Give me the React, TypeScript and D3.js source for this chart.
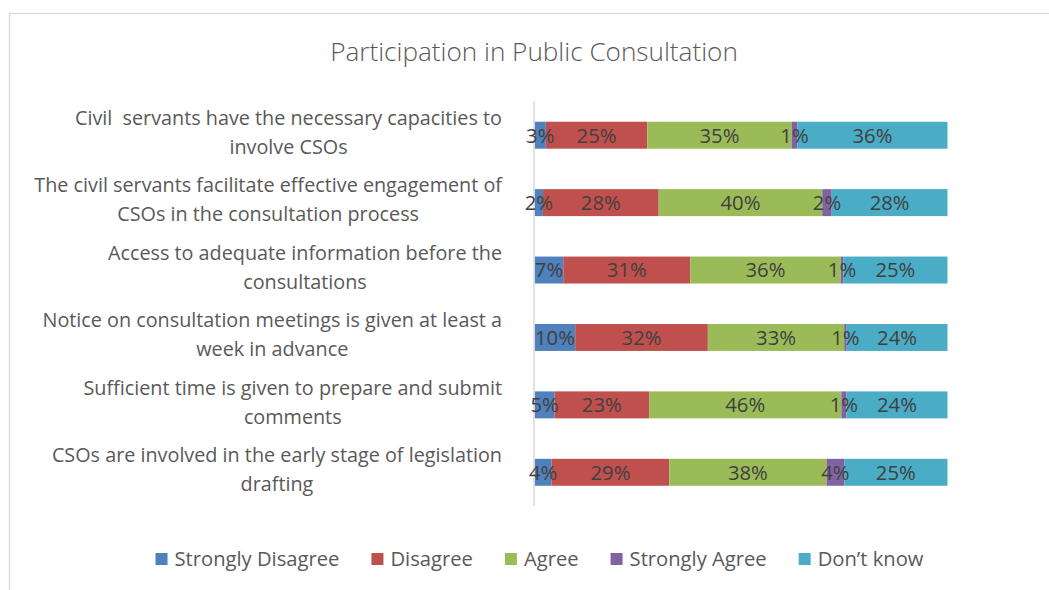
import React, { useEffect, useRef } from 'react';
import * as d3 from 'd3';

const categories = [
  'Civil  servants have the necessary capacities to\ninvolve CSOs',
  'The civil servants facilitate effective engagement of\nCSOs in the consultation process',
  'Access to adequate information before the\nconsultations',
  'Notice on consultation meetings is given at least a\nweek in advance',
  'Sufficient time is given to prepare and submit\ncomments',
  'CSOs are involved in the early stage of legislation\ndrafting',
];
const seriesNames = ['Strongly Disagree', 'Disagree', 'Agree', 'Strongly Agree', 'Don’t know'];
const stronglyDisagree = [2.7, 2.0, 6.9, 9.8, 4.8, 4.1];
const disagree = [24.6, 28.1, 30.7, 32.1, 22.8, 28.6];
const agree = [35.0, 39.7, 36.4, 33.0, 46.4, 38.2];
const stronglyAgree = [1.4, 2.3, 0.6, 0.6, 1.2, 4.3];
const dontKnow = [36.4, 28.1, 25.2, 24.4, 24.4, 25.1];
const colors = ['#4F81BD', '#C0504D', '#9BBB59', '#8064A2', '#4BACC6'];
const title = 'Participation in Public Consultation';

const W = 1049;
const H = 590;
const FONT = "'Open Sans', 'Noto Sans', sans-serif";

export default function App() {
  const ref = useRef<SVGSVGElement | null>(null);

  useEffect(() => {
    const svg = d3.select(ref.current);
    svg.selectAll('*').remove();

    const seriesValues = [stronglyDisagree, disagree, agree, stronglyAgree, dontKnow];
    const rows = categories.map((c, i) => {
      const r: any = { cat: c };
      seriesNames.forEach((s, j) => (r[s] = seriesValues[j][i]));
      return r;
    });
    const stacked = d3.stack<any>().keys(seriesNames).offset(d3.stackOffsetExpand)(rows);

    const x = d3.scaleLinear().domain([0, 1]).range([534.7, 947.5]);
    const y = d3.scaleBand<string>().domain(categories).range([101.5, 506]).paddingInner(0.6).paddingOuter(0.3);

    // frame
    svg.append('rect')
      .attr('x', 9.5).attr('y', 13.5).attr('width', 1100).attr('height', 700)
      .attr('fill', '#fff').attr('stroke', '#d9d9d9').attr('stroke-width', 1.3);

    // title
    const tt = svg.append('text')
      .attr('x', 534).attr('y', 52)
      .attr('dy', '0.36em')
      .attr('text-anchor', 'middle')
      .attr('font-family', FONT).attr('font-size', 26).attr('font-weight', 300)
      .attr('fill', '#595959')
      .text(title);
    const tw = (tt.node() as SVGTextElement).getComputedTextLength();
    if (tw > 0) tt.attr('font-size', (26 * 408) / tw);

    // bars
    stacked.forEach((s, j) => {
      const g = svg.append('g');
      g.selectAll('rect').data(s).join('rect')
        .attr('x', (d) => x(d[0]))
        .attr('y', (d) => y(d.data.cat)!)
        .attr('width', (d) => x(d[1]) - x(d[0]))
        .attr('height', y.bandwidth())
        .attr('fill', colors[j]);
    });

    // axis line
    svg.append('line')
      .attr('x1', 534).attr('x2', 534).attr('y1', 101).attr('y2', 506)
      .attr('stroke', '#d9d9d9').attr('stroke-width', 1.5);

    // data labels
    stacked.forEach((s, j) => {
      svg.append('g').selectAll('text').data(s).join('text')
        .attr('x', (d) => (x(d[0]) + x(d[1])) / 2)
        .attr('y', (d) => y(d.data.cat)! + y.bandwidth() / 2)
        .attr('dy', '0.36em')
        .attr('text-anchor', 'middle')
        .attr('font-family', FONT).attr('font-size', 20.3)
        .attr('fill', '#404040')
        .text((d) => Math.round(seriesValues[j][categories.indexOf(d.data.cat)]) + '%');
    });

    // category labels
    const rightEdge = 502;
    categories.forEach((c) => {
      const lines = c.split('\n');
      const cy = y(c)! + y.bandwidth() / 2 - 3;
      const lh = 29;
      const g = svg.append('g');
      const texts = lines.map((ln, k) =>
        g.append('text')
          .attr('y', cy + (k - (lines.length - 1) / 2) * lh)
          .attr('dy', '0.36em')
          .attr('text-anchor', 'middle')
          .attr('font-family', FONT).attr('font-size', 19.8)
          .attr('fill', '#595959')
          .style('white-space', 'pre')
          .text(ln)
      );
      const maxW = d3.max(texts, (t) => (t.node() as SVGTextElement).getComputedTextLength()) || 0;
      texts.forEach((t) => t.attr('x', rightEdge - maxW / 2));
    });

    // legend
    const lg = svg.append('g');
    const items = seriesNames.map((s, j) => {
      const t = lg.append('text')
        .attr('y', 559).attr('dy', '0.36em')
        .attr('font-family', FONT).attr('font-size', 20.2)
        .attr('fill', '#595959')
        .text(s);
      const r = lg.append('rect').attr('width', 12).attr('height', 12).attr('y', 553).attr('fill', colors[j]);
      return { t, r, w: (t.node() as SVGTextElement).getComputedTextLength() };
    });
    const sqGap = 19;
    const spacing = 32;
    const total = d3.sum(items, (d) => sqGap + d.w) + spacing * (items.length - 1);
    let cx = 539.5 - total / 2;
    items.forEach((d) => {
      d.r.attr('x', cx);
      d.t.attr('x', cx + sqGap);
      cx += sqGap + d.w + spacing;
    });
  }, []);

  return (
    <svg
      ref={ref}
      width={W}
      height={H}
      style={{ position: 'fixed', left: 0, top: 0, display: 'block', background: '#fff' }}
    />
  );
}
